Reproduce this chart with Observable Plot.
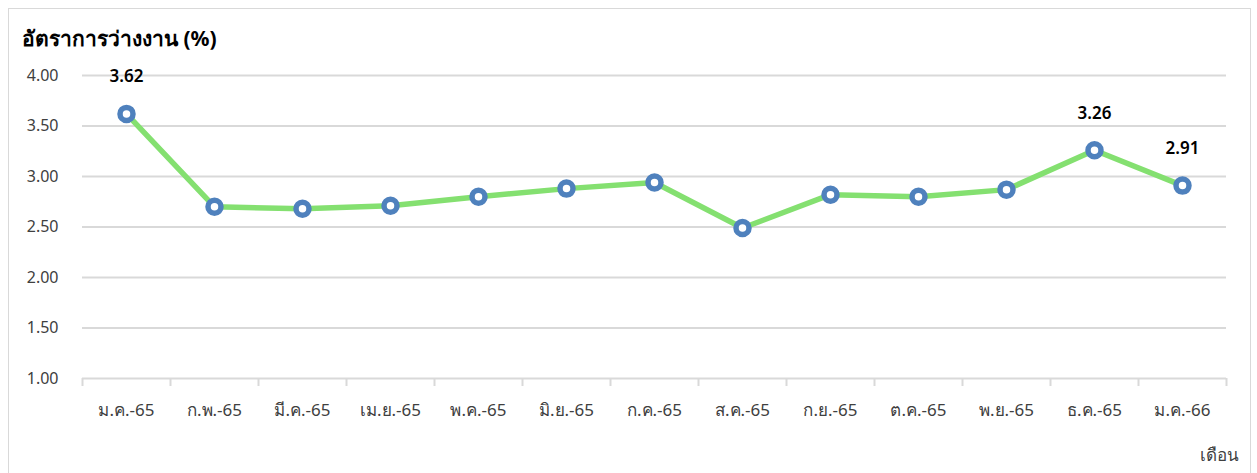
<!DOCTYPE html>
<html>
<head>
<meta charset="utf-8">
<script src="https://cdn.jsdelivr.net/npm/d3@7"></script>
<script src="https://cdn.jsdelivr.net/npm/@observablehq/plot@0.6"></script>
<style>
  html, body { margin: 0; padding: 0; background: #fff; }
  #wrap { position: relative; width: 1257px; height: 473px; overflow: hidden; font-family: "Noto Sans", "DejaVu Sans", sans-serif; }
  #frame { position: absolute; left: 8px; top: 8px; width: 1241px; height: 480px; border: 1px solid #d9d9d9; }
  #title { position: absolute; left: 22px; top: 23px; font-size: 21px; font-weight: bold; color: #000; line-height: 30px; }
  #xlabel { position: absolute; left: 1200px; top: 442px; font-size: 17px; color: #404040; line-height: 26px; }
  #chart { position: absolute; left: 0; top: 0; }
</style>
</head>
<body>
<div id="wrap">
  <div id="frame"></div>
  <div id="chart"></div>
  <div id="title">อัตราการว่างงาน (%)</div>
  <div id="xlabel">เดือน</div>
</div>
<script>
const months = ["ม.ค.-65","ก.พ.-65","มี.ค.-65","เม.ย.-65","พ.ค.-65","มิ.ย.-65","ก.ค.-65","ส.ค.-65","ก.ย.-65","ต.ค.-65","พ.ย.-65","ธ.ค.-65","ม.ค.-66"];
const rates = [3.62, 2.70, 2.68, 2.71, 2.80, 2.88, 2.94, 2.49, 2.82, 2.80, 2.87, 3.26, 2.91];
const labelText = ["3.62", "", "", "", "", "", "", "", "", "", "", "3.26", "2.91"];
const yTicks = [1.0, 1.5, 2.0, 2.5, 3.0, 3.5, 4.0];

const data = months.map((m, i) => ({month: m, rate: rates[i], label: labelText[i]}));

const W = 1257, H = 473, mL = 82, mR = 31, mT = 75, mB = 95;
const step = (W - mL - mR) / months.length;

const chart = Plot.plot({
  width: W,
  height: H,
  marginLeft: mL,
  marginRight: mR,
  marginTop: mT,
  marginBottom: mB,
  style: {fontFamily: "'Noto Sans', 'DejaVu Sans', sans-serif", background: "transparent"},
  x: {type: "point", domain: months, padding: 0.5},
  y: {domain: [1, 4]},
  marks: [
    Plot.ruleY(yTicks, {stroke: "#d9d9d9", strokeWidth: 2}),
    Plot.axisY({ticks: yTicks, tickSize: 0, tickPadding: 24, tickFormat: d => d.toFixed(2), fontSize: 16, fill: "#404040", textAnchor: "end", label: null}),
    Plot.ruleX(months, {x: d => d, y1: 1, y2: 1, insetBottom: -8, dx: -step / 2, stroke: "#d9d9d9", strokeWidth: 2}),
    Plot.ruleX([months[months.length - 1]], {x: d => d, y1: 1, y2: 1, insetBottom: -8, dx: step / 2, stroke: "#d9d9d9", strokeWidth: 2}),
    Plot.axisX({tickSize: 0, tickPadding: 25, fontSize: 17, fill: "#404040", label: null}),
    Plot.line(data, {x: "month", y: "rate", stroke: "#84e070", strokeWidth: 5.5}),
    Plot.dot(data, {x: "month", y: "rate", r: 6.5, fill: "white", stroke: "#4f81bd", strokeWidth: 5.5}),
    Plot.text(data, {x: "month", y: "rate", text: "label", dy: -37, fontSize: 17, fontWeight: 600, fill: "#000"})
  ]
});
document.getElementById("chart").appendChild(chart);
</script>
</body>
</html>
